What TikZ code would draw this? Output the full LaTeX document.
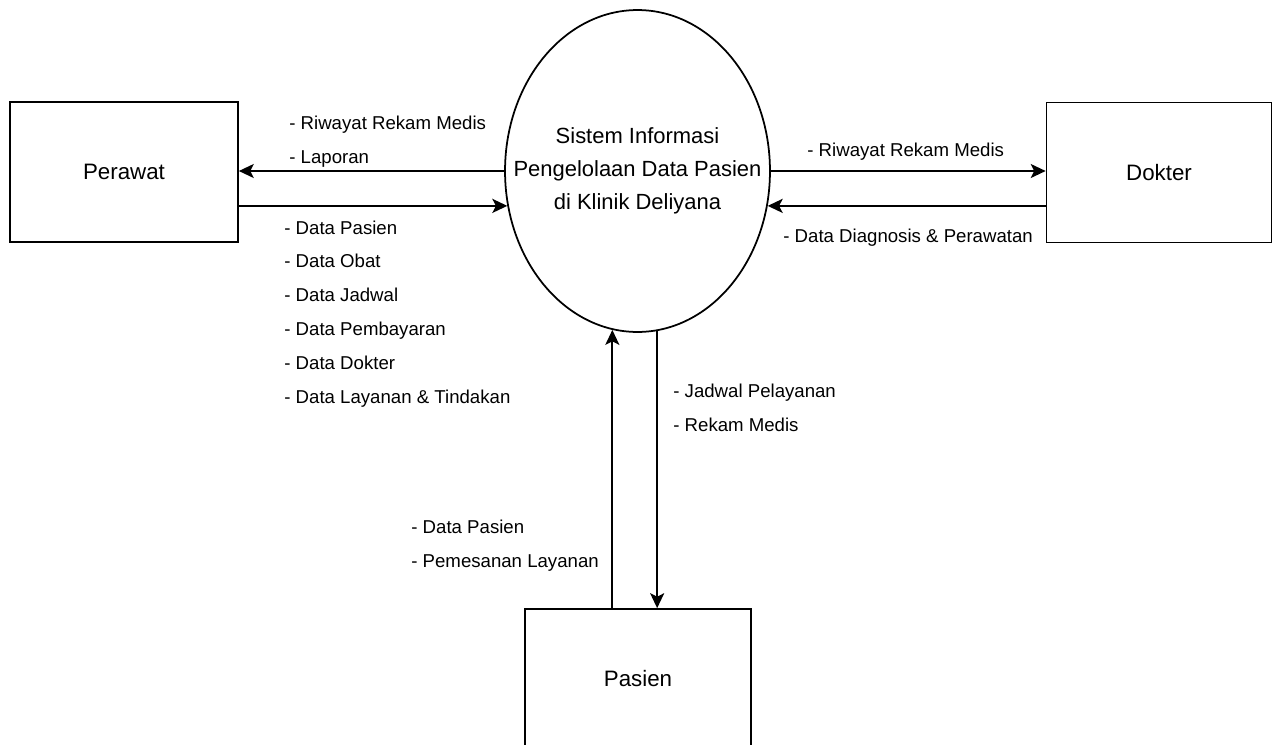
\documentclass[tikz,border=0pt]{standalone}
\usepackage{fontspec}
\setmainfont{Liberation Sans}
\usetikzlibrary{positioning,shapes.geometric,arrows.meta}

\begin{document}
\begin{tikzpicture}[x=0.02cm,y=-0.02cm,
    entity/.style={draw, line width=1pt, minimum width=4.56cm, minimum height=2.8cm, font=\fontsize{12.7}{15}\selectfont},
    proses/.style={draw, ellipse, line width=1pt, minimum width=5.3cm, minimum height=6.44cm, inner sep=0pt},
    flow/.style={line width=1pt, -{Stealth[length=8.5pt,width=8pt,inset=2pt]}},
    ket/.style={align=left, anchor=west, inner sep=0pt, font=\fontsize{10.6}{19.3}\selectfont}]
    \useasboundingbox (0,0) rectangle (1274,744);
    % Draw the external entities
    \node[entity] (perawat) at (124,172) {Perawat};
    \node[entity, minimum width=4.5cm] (dokter) at (1159,172.5) {Dokter};
    \node[entity, minimum width=4.52cm] (pasien) at (638,679) {Pasien};
    % Draw the process
    \node[proses] (sistem) at (637.5,171) {};
    \node[align=center, font=\fontsize{12.5}{18.7}\selectfont] (sistemteks) at (sistem) {Sistem Informasi\\Pengelolaan Data Pasien\\di Klinik Deliyana};
    % Draw the data flows
    \draw[flow] (sistem.west) -- (sistem.west -| perawat.east);
    \draw[flow] (sistem.195 -| perawat.east) -- (sistem.195);
    \draw[flow] (sistem.east) -- (sistem.east -| dokter.west);
    \draw[flow] (sistem.-15 -| dokter.west) -- (sistem.-15);
    \draw[flow] (sistem.261 |- pasien.north) -- (sistem.261);
    \draw[flow] (sistem.277) -- (sistem.277 |- pasien.north);
    % Draw the flow labels
    \node[ket] (kelPerawat) at (289,142) {- Riwayat Rekam Medis\\- Laporan};
    \node[ket] (masukPerawat) at (284,314) {- Data Pasien\\- Data Obat\\- Data Jadwal\\- Data Pembayaran\\- Data Dokter\\- Data Layanan \& Tindakan};
    \node[ket] (kelDokter) at (807,152) {- Riwayat Rekam Medis};
    \node[ket] (masukDokter) at (783,238) {- Data Diagnosis \& Perawatan};
    \node[ket] (kelPasien) at (673,408) {- Jadwal Pelayanan\\- Rekam Medis};
    \node[ket] (masukPasien) at (411,546) {- Data Pasien\\- Pemesanan Layanan};
\end{tikzpicture}
\end{document}
